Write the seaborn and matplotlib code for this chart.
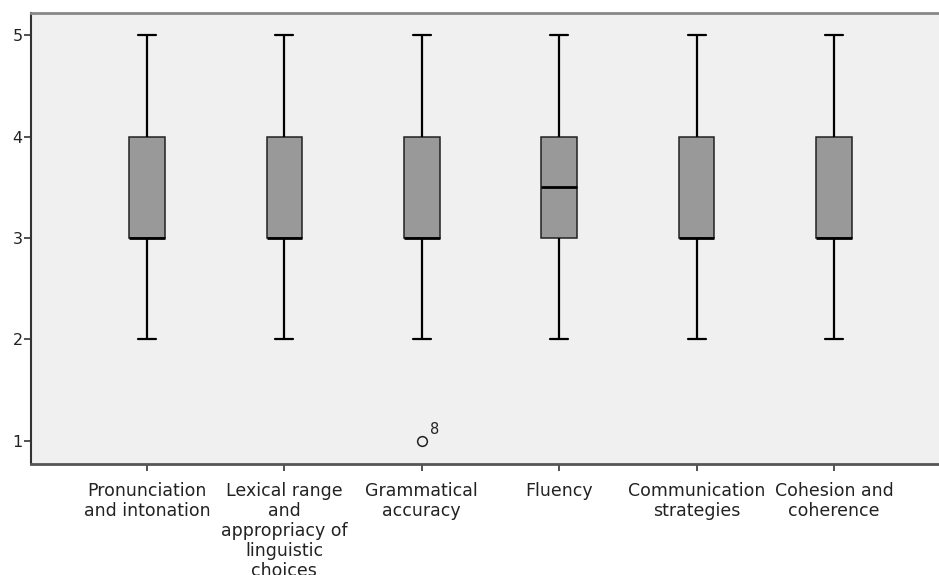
"""
Boxplot of the speaking-assessment ratings (1-5) per criterion, SPSS style.
"""

import pandas as pd
import matplotlib
matplotlib.use("Agg")
import matplotlib.pyplot as plt
import seaborn as sns

criteria = [
    "Pronunciation\nand intonation",
    "Lexical range\nand\nappropriacy of\nlinguistic\nchoices",
    "Grammatical\naccuracy",
    "Fluency",
    "Communication\nstrategies",
    "Cohesion and\ncoherence",
]
pronunciation = [2, 3, 3, 3, 3, 3, 4, 4, 4, 5]
lexical = [2, 3, 3, 3, 3, 3, 4, 4, 4, 5]
grammatical = [1, 2, 3, 3, 3, 3, 4, 4, 4, 5]
fluency = [2, 3, 3, 3, 3, 4, 4, 4, 4, 5]
communication = [2, 3, 3, 3, 3, 3, 4, 4, 4, 5]
cohesion = [2, 3, 3, 3, 3, 3, 4, 4, 4, 5]
outlier_case = "8"  # case number SPSS prints next to the outlier

y_ticks = [1, 2, 3, 4, 5]

series = [pronunciation, lexical, grammatical, fluency, communication, cohesion]
df = pd.DataFrame(
    [(crit, v) for crit, vals in zip(criteria, series) for v in vals],
    columns=["criterion", "score"],
)

sns.set_theme(style="white")
plt.rcParams["font.family"] = ["DejaVu Sans"]

fig = plt.figure(figsize=(9.39, 5.75), dpi=100)
ax = fig.add_axes([31 / 939, 111 / 575, 1 - 31 / 939, 451 / 575])
ax.set_facecolor("#f0f0f0")

sns.boxplot(
    data=df, x="criterion", y="score", order=criteria, ax=ax,
    width=0.26, color="#999999", linecolor="#222222", linewidth=1.1,
    whis=1.5, saturation=1,
    whiskerprops={"color": "black", "linewidth": 1.6},
    capprops={"color": "black", "linewidth": 1.6},
    medianprops={"color": "black", "linewidth": 2.0},
    flierprops={"marker": "o", "markersize": 7, "markerfacecolor": "none",
                "markeredgecolor": "#222222", "markeredgewidth": 1.1},
)

# label for the outlier (case number)
g_idx = criteria.index("Grammatical\naccuracy")
ax.annotate(outlier_case, (g_idx, min(grammatical)), xytext=(6, 5),
            textcoords="offset points", fontsize=10.5, color="#222222")

ax.set_xlim(-0.844, 5.764)
ax.set_ylim(0.773, 5.217)
ax.set_yticks(y_ticks)
ax.set_xlabel("")
ax.set_ylabel("")

ax.tick_params(axis="both", direction="out", length=5, width=1.2,
               color="#333333", labelcolor="#222222",
               left=True, bottom=True)
ax.tick_params(axis="y", pad=1, labelsize=11.5)
ax.tick_params(axis="x", pad=8, labelsize=12.5)
for lbl in ax.get_xticklabels():
    lbl.set_linespacing(1.15)

ax.spines["left"].set_color("#333333")
ax.spines["left"].set_linewidth(1.5)
ax.spines["bottom"].set_color("#555555")
ax.spines["bottom"].set_linewidth(2)
ax.spines["top"].set_color("#888888")
ax.spines["top"].set_linewidth(2)
ax.spines["right"].set_visible(False)

fig.savefig("out.png", dpi=100, facecolor="white")
